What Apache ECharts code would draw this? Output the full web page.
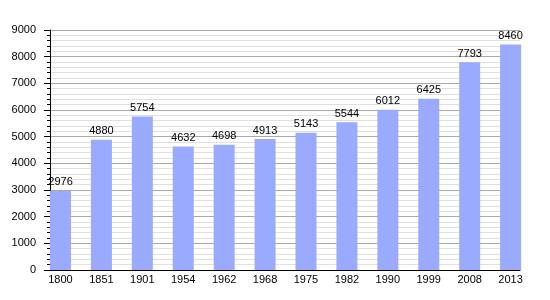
<!DOCTYPE html>
<html><head><meta charset="utf-8">
<script src="https://cdn.jsdelivr.net/npm/echarts@6/dist/echarts.min.js"></script>
<style>html,body{margin:0;padding:0;background:#fff}#c{width:550px;height:300px}</style>
</head><body><div id="c"></div>
<script>
const years = ['1800','1851','1901','1954','1962','1968','1975','1982','1990','1999','2008','2013'];
const population = [2976,4880,5754,4632,4698,4913,5143,5544,6012,6425,7793,8460];
const yTicks = {min:0, max:9000, interval:1000};

const font = 'Liberation Sans, Arial, sans-serif';
const chart = echarts.init(document.getElementById('c'), null, {renderer:'canvas'});
chart.setOption({
  animation:false,
  grid:[
    {left:50, right:30, top:30, bottom:30},
    {left:50, right:9, top:30, bottom:30}
  ],
  xAxis:[
    {gridIndex:0, type:'value', min:0, max:1, axisLine:{show:true,lineStyle:{color:'#000',width:1}},
     axisTick:{show:false}, axisLabel:{show:false}, splitLine:{show:false}},
    {gridIndex:1, type:'category', data:years, boundaryGap:true,
     axisLine:{show:false}, axisTick:{show:false}, splitLine:{show:false},
     axisLabel:{color:'#000', fontFamily:font, fontSize:11, margin:4, padding:[0,20,0,0], interval:0}}
  ],
  yAxis:[
    {gridIndex:0, type:'value', min:yTicks.min, max:yTicks.max, interval:yTicks.interval,
     axisLine:{show:true,lineStyle:{color:'#000',width:1}},
     axisTick:{show:true,length:6,lineStyle:{color:'#000'}},
     minorTick:{show:true,splitNumber:5,length:3,lineStyle:{color:'#000'}},
     axisLabel:{color:'#000', fontFamily:font, fontSize:11, margin:14, formatter:v=>String(v)},
     splitLine:{show:true,lineStyle:{color:'#aaaaaa',width:1}},
     minorSplitLine:{show:true,lineStyle:{color:'#e0e0e0',width:1}}},
    {gridIndex:1, type:'value', min:yTicks.min, max:yTicks.max, show:false, splitLine:{show:false}}
  ],
  series:[
    {type:'bar', xAxisIndex:1, yAxisIndex:1, data:population, barWidth:21, barGap:'0%',
     itemStyle:{color:'#99aaff'},
     label:{show:true, position:'top', distance:3, color:'#000', fontFamily:font, fontSize:11}},
    {type:'bar', xAxisIndex:1, yAxisIndex:1, data:[], barWidth:19.9, barGap:'0%', silent:true}
  ]
});
</script></body></html>
